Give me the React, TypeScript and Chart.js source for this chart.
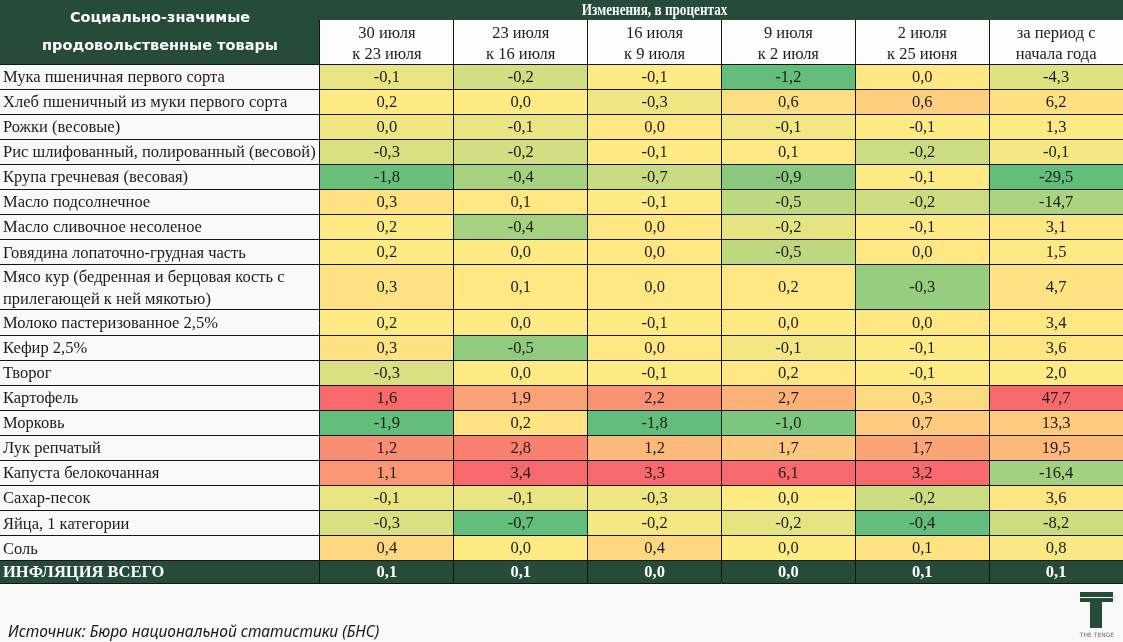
import React, { useEffect, useRef } from 'react';
import { Chart, registerables } from 'chart.js';

Chart.register(...registerables);

// ---------- data ----------
const products: (string | string[])[] = [
  'Мука пшеничная первого сорта',
  'Хлеб пшеничный из муки первого сорта',
  'Рожки (весовые)',
  'Рис шлифованный, полированный (весовой)',
  'Крупа гречневая (весовая)',
  'Масло подсолнечное',
  'Масло сливочное несоленое',
  'Говядина лопаточно-грудная часть',
  ['Мясо кур (бедренная и берцовая кость с', 'прилегающей к ней мякотью)'],
  'Молоко пастеризованное 2,5%',
  'Кефир 2,5%',
  'Творог',
  'Картофель',
  'Морковь',
  'Лук репчатый',
  'Капуста белокочанная',
  'Сахар-песок',
  'Яйца, 1 категории',
  'Соль',
];
const totalLabel = 'ИНФЛЯЦИЯ ВСЕГО';
const headerTitle = 'Изменения, в процентах';
const cornerTitle = ['Социально-значимые', 'продовольственные товары'];
const sourceNote = 'Источник: Бюро национальной статистики (БНС)';

const periodLabels = [
  ['30 июля', 'к 23 июля'],
  ['23 июля', 'к 16 июля'],
  ['16 июля', 'к 9 июля'],
  ['9 июля', 'к 2 июля'],
  ['2 июля', 'к 25 июня'],
  ['за период с', 'начала года'],
];

const chg30Jul = [-0.1, 0.2, 0.0, -0.3, -1.8, 0.3, 0.2, 0.2, 0.3, 0.2, 0.3, -0.3, 1.6, -1.9, 1.2, 1.1, -0.1, -0.3, 0.4];
const chg23Jul = [-0.2, 0.0, -0.1, -0.2, -0.4, 0.1, -0.4, 0.0, 0.1, 0.0, -0.5, 0.0, 1.9, 0.2, 2.8, 3.4, -0.1, -0.7, 0.0];
const chg16Jul = [-0.1, -0.3, 0.0, -0.1, -0.7, -0.1, 0.0, 0.0, 0.0, -0.1, 0.0, -0.1, 2.2, -1.8, 1.2, 3.3, -0.3, -0.2, 0.4];
const chg9Jul = [-1.2, 0.6, -0.1, 0.1, -0.9, -0.5, -0.2, -0.5, 0.2, 0.0, -0.1, 0.2, 2.7, -1.0, 1.7, 6.1, 0.0, -0.2, 0.0];
const chg2Jul = [0.0, 0.6, -0.1, -0.2, -0.1, -0.2, -0.1, 0.0, -0.3, 0.0, -0.1, -0.1, 0.3, 0.7, 1.7, 3.2, -0.2, -0.4, 0.1];
const chgYtd = [-4.3, 6.2, 1.3, -0.1, -29.5, -14.7, 3.1, 1.5, 4.7, 3.4, 3.6, 2.0, 47.7, 13.3, 19.5, -16.4, 3.6, -8.2, 0.8];
const totalInflation = [0.1, 0.1, 0.0, 0.0, 0.1, 0.1];

const columns = [chg30Jul, chg23Jul, chg16Jul, chg9Jul, chg2Jul, chgYtd];
// number of leading columns that sit under the "Изменения, в процентах" title
const titleSpan = 5;

// ---------- styles / layout ----------
const DARK = '#274b39';
const LINE = '#161616';
const TEXT = '#1c1c1c';
const SERIF = '"Liberation Serif", "Times New Roman", serif';
const FONT_SIZE = 16.5;
const LOW = [99, 190, 123];
const MID = [255, 235, 132];
const HIGH = [248, 105, 107];
const TWO_LINE_ROW = 1.83;
const TOTAL_ROW = 0.91;
const HEADER_H = 64;
const BAND_H = 20;
const LABEL_NUDGE = 0.06; // small downward nudge of row labels, in row units

const rowUnits = [...products.map((p) => (Array.isArray(p) ? TWO_LINE_ROW : 1)), TOTAL_ROW];
const rowStarts: number[] = [];
rowUnits.reduce((acc, u) => {
  rowStarts.push(acc);
  return acc + u;
}, 0);
const totalUnits = rowUnits.reduce((a, b) => a + b, 0);
const totalIndex = rowUnits.length - 1;

const yTicks: any[] = [];
rowStarts.forEach((s, i) => {
  yTicks.push({ value: s, kind: 'edge' });
  yTicks.push({ value: s + rowUnits[i] / 2 + LABEL_NUDGE, kind: 'center', row: i });
});
yTicks.push({ value: totalUnits, kind: 'edge' });

function mix(a: number[], b: number[], t: number) {
  const c = a.map((v, i) => Math.round(v + (b[i] - v) * t));
  return `rgb(${c[0]},${c[1]},${c[2]})`;
}

// Excel-like 3-colour scale per column (min / median / max)
function scaleColors(values: number[]) {
  const sorted = [...values].sort((a, b) => a - b);
  const min = sorted[0];
  const max = sorted[sorted.length - 1];
  const n = sorted.length;
  const med = n % 2 ? sorted[(n - 1) / 2] : (sorted[n / 2 - 1] + sorted[n / 2]) / 2;
  return values.map((v) => {
    if (v <= med) {
      const t = med === min ? 0 : (med - v) / (med - min);
      return mix(MID, LOW, t);
    }
    const t = max === med ? 0 : (v - med) / (max - med);
    return mix(MID, HIGH, t);
  });
}

const columnColors = columns.map(scaleColors);
const fmt = (v: number) => v.toFixed(1).replace('.', ',');

const tablePlugin = {
  id: 'tableDecor',
  beforeDraw(chart: any) {
    const { ctx, chartArea, scales } = chart;
    const x = scales.x;
    const y = scales.y;
    ctx.save();
    ctx.fillStyle = '#f9f9f9';
    ctx.fillRect(0, 0, chart.width, chart.height);
    const bandBottom = x.bottom - x.options.grid.tickLength;
    ctx.fillStyle = '#fdfdfd';
    ctx.fillRect(chartArea.left, bandBottom, chartArea.right - chartArea.left, x.bottom - bandBottom);
    ctx.fillStyle = DARK;
    ctx.fillRect(chartArea.left, 0, chartArea.right - chartArea.left, bandBottom);
    ctx.fillRect(0, 0, chartArea.left, x.bottom);
    const t0 = y.getPixelForValue(rowStarts[totalIndex]);
    const t1 = y.getPixelForValue(totalUnits);
    ctx.fillRect(0, t0, chartArea.left, t1 - t0);
    // corner header text
    ctx.fillStyle = '#ffffff';
    ctx.font = 'bold 14.5px "DejaVu Sans", sans-serif';
    ctx.textAlign = 'center';
    ctx.textBaseline = 'middle';
    const cx = chartArea.left / 2;
    ctx.fillText(cornerTitle[0], cx, x.bottom * 0.285);
    ctx.fillText(cornerTitle[1], cx, x.bottom * 0.73);
    // band title, centred over the columns it spans
    const half = (x.getPixelForValue(1) - x.getPixelForValue(0)) / 2;
    const tx = (x.getPixelForValue(0) - half + x.getPixelForValue(titleSpan - 1) + half) / 2;
    ctx.font = `bold 16.5px ${SERIF}`;
    ctx.translate(tx, bandBottom / 2 + 0.5);
    ctx.scale(0.8, 1);
    ctx.fillText(headerTitle, 0, 0);
    ctx.restore();
  },
  afterDatasetsDraw(chart: any) {
    const { ctx } = chart;
    ctx.save();
    ctx.textAlign = 'center';
    ctx.textBaseline = 'middle';
    chart.data.datasets.forEach((ds: any, i: number) => {
      const meta = chart.getDatasetMeta(i);
      const isTotal = i === totalIndex;
      ctx.font = `${isTotal ? 'bold ' : ''}${FONT_SIZE}px ${SERIF}`;
      ctx.fillStyle = isTotal ? '#ffffff' : TEXT;
      meta.data.forEach((bar: any, j: number) => {
        const p = bar.getProps(['x', 'y', 'base'], true);
        ctx.fillText(fmt(ds.cellValues[j]), p.x, (p.y + p.base) / 2 + 1);
      });
    });
    ctx.restore();
  },
  afterDraw(chart: any) {
    const { ctx } = chart;
    const h = chart.height;
    const w = chart.width;
    ctx.save();
    ctx.fillStyle = '#1a1a1a';
    ctx.font = 'italic 15.5px "Noto Sans", sans-serif';
    ctx.textAlign = 'left';
    ctx.textBaseline = 'middle';
    ctx.fillText(sourceNote, 8, h - 9.5);
    // logo
    ctx.fillStyle = DARK;
    ctx.fillRect(w - 43, h - 50, 33, 5);
    ctx.fillRect(w - 43, h - 44, 33, 4);
    ctx.fillRect(w - 33, h - 40, 12, 26);
    ctx.fillStyle = '#666';
    ctx.font = '6px "DejaVu Sans", sans-serif';
    ctx.textAlign = 'center';
    ctx.fillText('THE TENGE', w - 26, h - 7);
    ctx.restore();
  },
};

export default function App() {
  const canvasRef = useRef<HTMLCanvasElement>(null);

  useEffect(() => {
    document.body.style.margin = '0';
    const canvas = canvasRef.current;
    if (!canvas) return;

    const datasets = rowUnits.map((u, r) => {
      const isTotal = r === totalIndex;
      const values = isTotal ? totalInflation : columns.map((c) => c[r]);
      return {
        label: isTotal ? totalLabel : String(products[r]),
        data: periodLabels.map(() => [rowStarts[r], rowStarts[r] + u]),
        cellValues: values,
        backgroundColor: isTotal ? periodLabels.map(() => DARK) : columnColors.map((c) => c[r]),
        borderWidth: 0,
        borderSkipped: false,
        grouped: false,
        barPercentage: 1,
        categoryPercentage: 1,
      };
    });

    const tickLen = HEADER_H - BAND_H;

    const chart = new Chart(canvas, {
      type: 'bar',
      data: { labels: periodLabels as any, datasets: datasets as any },
      plugins: [tablePlugin as any],
      options: {
        animation: false,
        responsive: false,
        events: [],
        layout: { padding: { left: 3, right: 0, top: 0, bottom: 59 } },
        plugins: { legend: { display: false }, tooltip: { enabled: false }, title: { display: false } },
        scales: {
          x: {
            type: 'category',
            position: 'top',
            offset: true,
            border: { display: false },
            grid: { display: true, offset: true, color: LINE, lineWidth: 1, tickLength: tickLen, z: 1, drawTicks: true },
            ticks: {
              color: TEXT,
              font: { family: SERIF, size: FONT_SIZE, lineHeight: 1.27 },
              padding: -tickLen - 1,
              maxRotation: 0,
              autoSkip: false,
            },
            title: { display: false },
            afterFit: (scale: any) => {
              scale.height = HEADER_H;
            },
          } as any,
          y: {
            type: 'linear',
            reverse: true,
            min: 0,
            max: totalUnits,
            border: { display: false },
            grid: {
              display: true,
              color: (c: any) => (c.tick && c.tick.kind === 'center' ? 'rgba(0,0,0,0)' : LINE),
              lineWidth: 1,
              tickLength: 320,
              z: 1,
            },
            afterBuildTicks: (scale: any) => {
              scale.ticks = yTicks.map((t) => ({ ...t }));
            },
            ticks: {
              autoSkip: false,
              crossAlign: 'far',
              color: (c: any) => (c.tick && c.tick.row === totalIndex ? '#ffffff' : TEXT),
              font: (c: any) => ({
                family: SERIF,
                size: FONT_SIZE,
                weight: c.tick && c.tick.row === totalIndex ? 'bold' : 'normal',
                lineHeight: 1.3,
              }),
              callback: (_v: any, i: number, ticks: any[]) => {
                const t = ticks[i];
                if (!t || t.kind !== 'center') return '';
                return t.row < products.length ? (products[t.row] as any) : totalLabel;
              },
            },
            afterFit: (scale: any) => {
              scale.width = 317;
            },
          } as any,
        },
      },
    });

    return () => chart.destroy();
  }, []);

  return (
    <div style={{ width: 1123, height: 642 }}>
      <canvas ref={canvasRef} width={1123} height={642} />
    </div>
  );
}
